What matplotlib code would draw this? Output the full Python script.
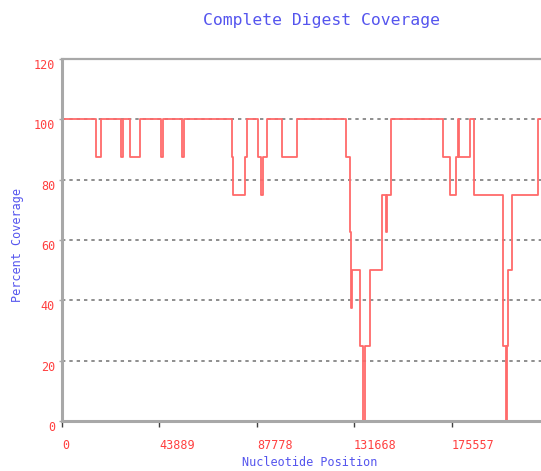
"""
    step plot of the percent coverage of a complete digest along the sequence
"""

import numpy as np
import matplotlib
matplotlib.use("Agg")
from matplotlib import pyplot as plt

# start of every stretch (nucleotide) and the coverage in it (percent)
positions = [0, 451, 15320, 17573, 26811, 27487, 30641, 35147, 44835, 45511,
             54297, 54973, 76602, 77053, 82460, 83361, 88318, 89895, 90571,
             92373, 99132, 105891, 127970, 129773, 130449, 130899, 134279,
             135856, 136532, 138785, 144192, 146220, 146670, 148247, 171679,
             174833, 177537, 178663, 179114, 183955, 185757, 198824, 199951,
             200627, 201077, 202879, 214595]
coverage = [87.5, 100, 87.5, 100, 87.5, 100, 87.5, 100, 87.5, 100,
            87.5, 100, 87.5, 75, 87.5, 100, 87.5, 75, 87.5,
            100, 87.5, 100, 87.5, 62.5, 37.5, 50, 25,
            0, 25, 50, 75, 62.5, 75, 100, 87.5,
            75, 87.5, 100, 87.5, 100, 75, 25, 0,
            25, 50, 75, 100]
seq_length = 219446

xticks = [0, 43889, 87778, 131668, 175557]
yticks = [0, 20, 40, 60, 80, 100, 120]
grid_levels = [20, 40, 60, 80, 100]

title_col = "#5555ee"
label_col = "#ff4040"

fig = plt.figure(figsize=(5.41, 4.71), dpi=100)
ax = fig.add_axes([0.1146, 0.1062, 0.900, 0.7686])

for lev in grid_levels:
    ax.axhline(lev, color="#707070", lw=1.1, ls=(0, (2.2, 2.6)), zorder=1)

xs = positions + [seq_length]
ys = coverage + [coverage[-1]]
ax.step(xs, ys, where="post", color="#ff6a6a", lw=1.3, zorder=2)

ax.set_xlim(0, seq_length)
ax.set_ylim(0, 120)

for side in ["left", "bottom", "top", "right"]:
    ax.spines[side].set_color("#a8a8a8")
    ax.spines[side].set_linewidth(2.2)
ax.spines["top"].set_linewidth(1.6)

ax.set_xticks(xticks)
ax.set_xticklabels([str(t) for t in xticks])
ax.set_yticks(yticks)
ax.set_yticklabels([str(t) for t in yticks])
ax.tick_params(axis="x", direction="out", length=4, width=1, color="#404040",
               pad=9, labelsize=8.5, labelcolor=label_col)
ax.tick_params(axis="y", direction="out", length=2, width=1, color="#a8a8a8",
               pad=3, labelsize=8.5, labelcolor=label_col)
for lbl in ax.get_xticklabels():
    lbl.set_horizontalalignment("left")
    lbl.set_fontfamily("DejaVu Sans Mono")
for lbl in ax.get_yticklabels():
    lbl.set_verticalalignment("top")
    lbl.set_fontfamily("DejaVu Sans Mono")

fig.text(0.595, 0.957, "Complete Digest Coverage", color=title_col,
         family="DejaVu Sans Mono", fontsize=11.8, ha="center", va="center")
fig.text(0.573, 0.017, "Nucleotide Position", color=title_col,
         family="DejaVu Sans Mono", fontsize=8.5, ha="center", va="center")
fig.text(0.033, 0.48, "Percent Coverage", color=title_col,
         family="DejaVu Sans Mono", fontsize=8.5, ha="center", va="center",
         rotation=90)

fig.savefig("out.png", dpi=100)
